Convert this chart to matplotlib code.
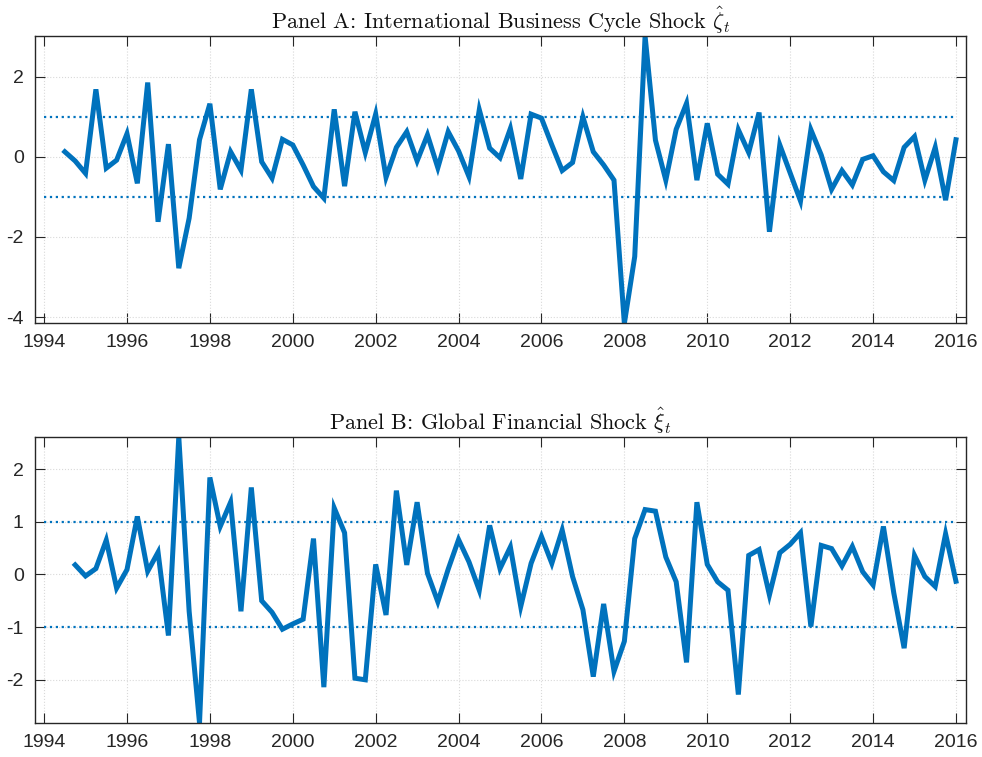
import numpy as np
import matplotlib
matplotlib.use("Agg")
import matplotlib.pyplot as plt

plt.rcParams['font.family'] = ['Liberation Sans', 'DejaVu Sans']
plt.rcParams['mathtext.fontset'] = 'cm'

# Panel A: international business cycle shock, quarterly from 1994Q3
shock_a = [0.13, -0.10, -0.41, 1.69, -0.28, -0.08, 0.58, -0.66, 1.86, -1.62,
           0.32, -2.78, -1.53, 0.43, 1.33, -0.81, 0.13, -0.33, 1.69, -0.12,
           -0.53, 0.44, 0.30, -0.20, -0.74, -1.03, 1.19, -0.73, 1.13, 0.11,
           1.07, -0.51, 0.24, 0.63, -0.10, 0.55, -0.27, 0.63, 0.15, -0.49,
           1.18, 0.22, -0.02, 0.71, -0.55, 1.07, 0.97, 0.30, -0.34, -0.14,
           1.00, 0.13, -0.20, -0.58, -4.16, -2.49, 3.02, 0.42, -0.58, 0.69,
           1.34, -0.58, 0.84, -0.43, -0.68, 0.68, 0.11, 1.11, -1.87, 0.30,
           -0.40, -1.10, 0.68, 0.05, -0.81, -0.34, -0.70, -0.06, 0.03, -0.37,
           -0.59, 0.24, 0.51, -0.58, 0.24, -1.08, 0.43]
start_a = 1994.5

# Panel B: global financial shock, quarterly from 1994Q4
shock_b = [0.18, -0.03, 0.11, 0.65, -0.26, 0.09, 1.10, 0.06, 0.42, -1.16,
           2.61, -0.70, -2.82, 1.84, 0.91, 1.37, -0.70, 1.65, -0.50, -0.72,
           -1.04, -0.94, -0.85, 0.68, -2.14, 1.26, 0.79, -1.97, -2.00, 0.19,
           -0.77, 1.59, 0.18, 1.37, 0.02, -0.52, 0.10, 0.66, 0.24, -0.30,
           0.93, 0.11, 0.52, -0.61, 0.21, 0.72, 0.21, 0.84, -0.04, -0.67,
           -1.94, -0.56, -1.84, -1.27, 0.68, 1.23, 1.20, 0.33, -0.14, -1.67,
           1.37, 0.19, -0.14, -0.30, -2.28, 0.36, 0.47, -0.39, 0.41, 0.57,
           0.79, -0.99, 0.55, 0.49, 0.16, 0.53, 0.05, -0.20, 0.91, -0.35,
           -1.40, 0.36, -0.04, -0.23, 0.77, -0.13]
start_b = 1994.75

titles = [r'Panel A: International Business Cycle Shock $\hat{\zeta}_t$',
          r'Panel B: Global Financial Shock $\hat{\xi}_t$']
year_ticks = list(range(1994, 2017, 2))
band = [-1, 1]

blue = '#0072BD'
txt = '#262626'

fig = plt.figure(figsize=(9.82, 7.57), dpi=100)
ax_a = fig.add_axes([0.0356, 0.5733, 0.948, 0.379])
ax_b = fig.add_axes([0.0356, 0.0449, 0.948, 0.378])

panels = [
    (ax_a, shock_a, start_a, titles[0], (-4.15, 3.02), [-4, -2, 0, 2]),
    (ax_b, shock_b, start_b, titles[1], (-2.82, 2.61), [-2, -1, 0, 1, 2]),
]

for ax, vals, start, title, ylim, yticks in panels:
    t = start + 0.25 * np.arange(len(vals))
    for b in band:
        ax.plot([year_ticks[0], year_ticks[-1]], [b, b], ':', color=blue, lw=1.6)
    ax.plot(t, vals, color=blue, lw=3.6, solid_joinstyle='miter')
    ax.set_xlim(1993.78, 2016.24)
    ax.set_ylim(*ylim)
    ax.set_xticks(year_ticks)
    ax.set_yticks(yticks)
    ax.set_yticklabels([str(v) for v in yticks])
    ax.grid(True, linestyle=':', color='#d9d9d9', lw=0.8)
    ax.set_axisbelow(True)
    ax.tick_params(direction='in', length=7, width=0.8, colors=txt,
                   labelsize=14, top=True, right=True, pad=8)
    for s in ax.spines.values():
        s.set_color(txt)
        s.set_linewidth(1.0)
    ax.set_title(title, fontsize=16, fontfamily='cmr10', color='#111111', pad=5)

fig.savefig('out.png', dpi=100)
